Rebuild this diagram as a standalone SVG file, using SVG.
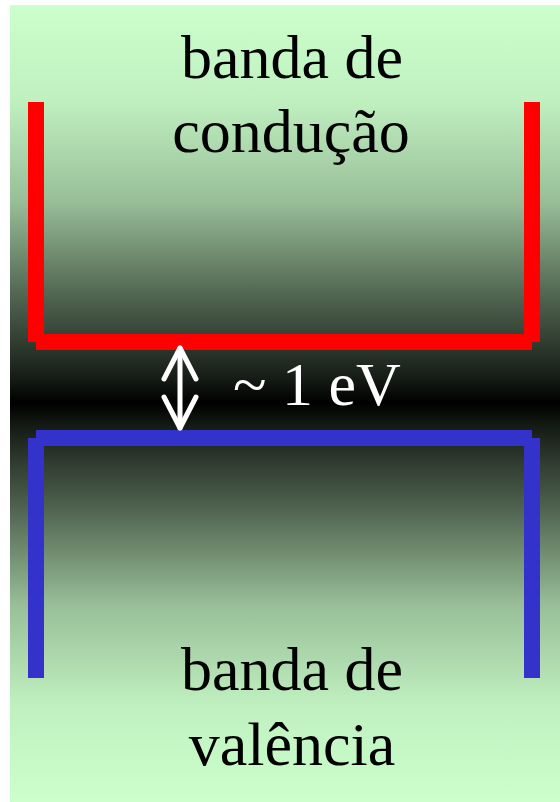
<svg xmlns="http://www.w3.org/2000/svg" width="560" height="802" viewBox="0 0 560 802">
  <defs>
    <!-- vertical shading: light green at the edges, black at the gap -->
    <linearGradient id="bg" gradientUnits="userSpaceOnUse" x1="0" y1="5" x2="0" y2="802">
      <stop offset="0" stop-color="#ccffcc"/>
      <stop offset="0.119" stop-color="#c0f0c0"/>
      <stop offset="0.245" stop-color="#99bf99"/>
      <stop offset="0.370" stop-color="#4e614e"/>
      <stop offset="0.433" stop-color="#2b362b"/>
      <stop offset="0.470" stop-color="#141a14"/>
      <stop offset="0.4994" stop-color="#000000"/>
      <stop offset="0.528" stop-color="#141a14"/>
      <stop offset="0.566" stop-color="#2b362b"/>
      <stop offset="0.629" stop-color="#4e614e"/>
      <stop offset="0.754" stop-color="#99bf99"/>
      <stop offset="0.880" stop-color="#c0f0c0"/>
      <stop offset="1" stop-color="#ccffcc"/>
    </linearGradient>
    <style>
      .band { fill: none; stroke-width: 16; stroke-linecap: butt; }
      .cond { stroke: #ff0000; }
      .val { stroke: #3333cc; }
      .lbl { font-family: "Liberation Serif", "Times New Roman", serif; font-size: 62px; fill: #000000; text-anchor: middle; }
      .gap { font-family: "Liberation Serif", "Times New Roman", serif; font-size: 62px; fill: #ffffff; }
      .arrow { fill: none; stroke: #ffffff; stroke-width: 5; stroke-linecap: round; stroke-linejoin: round; }
    </style>
  </defs>

  <rect x="0" y="0" width="560" height="802" fill="#ffffff"/>
  <rect x="10" y="5" width="550" height="797" fill="url(#bg)"/>

  <!-- conduction band outline -->
  <g id="conduction-band">
    <line class="band cond" x1="36" y1="102" x2="36" y2="342"/>
    <line class="band cond" x1="36" y1="342" x2="532" y2="342"/>
    <line class="band cond" x1="532" y1="342" x2="532" y2="102"/>
    <text class="lbl" x="292" y="78">banda de</text>
    <text class="lbl" x="291" y="152">condução</text>
  </g>

  <!-- valence band outline -->
  <g id="valence-band">
    <line class="band val" x1="36" y1="438" x2="532" y2="438"/>
    <line class="band val" x1="36" y1="438" x2="36" y2="678"/>
    <line class="band val" x1="532" y1="438" x2="532" y2="678"/>
    <text class="lbl" x="292" y="690">banda de</text>
    <text class="lbl" x="292" y="765">valência</text>
  </g>

  <!-- band gap marker -->
  <g id="connectors">
    <g id="gap-arrow">
      <line class="arrow" x1="180" y1="348" x2="180" y2="428"/>
      <polyline class="arrow" points="164,379 180,348 196,379"/>
      <polyline class="arrow" points="164,397 180,428 196,397"/>
    </g>
  </g>
  <g id="gap-label">
    <text class="gap" x="233" y="405">~ 1 eV</text>
  </g>
</svg>
